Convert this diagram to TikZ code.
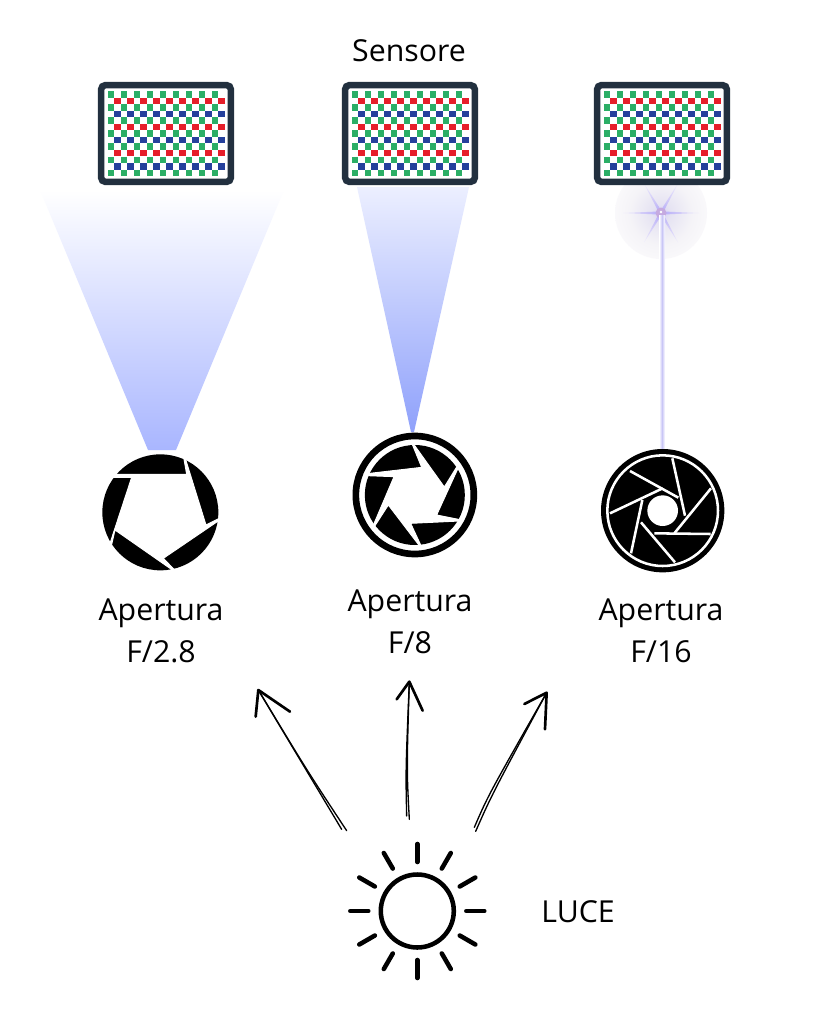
\documentclass[tikz,border=0pt]{standalone}
\usepackage{fontspec}
\setmainfont{Open Sans}
\definecolor{framec}{HTML}{22303F}
\definecolor{gr}{HTML}{2BAE66}
\definecolor{rd}{HTML}{E61E2A}
\definecolor{bl}{HTML}{25409C}
\definecolor{beamA}{HTML}{A9B6FF}
\definecolor{beamB}{HTML}{8FA1FB}
\definecolor{beamBtop}{HTML}{ECEFFF}
\definecolor{beamC}{HTML}{C9C6F6}
\pgfdeclareradialshading{glowsh}{\pgfpoint{0bp}{0bp}}{rgb(0bp)=(.84,.82,.96); rgb(5bp)=(.90,.89,.95); rgb(17bp)=(.96,.955,.97); rgb(35bp)=(1,1,1); rgb(50bp)=(1,1,1)}
\pgfdeclareradialshading{spikesh}{\pgfpoint{0bp}{0bp}}{rgb(0bp)=(.70,.66,.98); rgb(10bp)=(.80,.77,.97); rgb(34bp)=(.99,.99,1); rgb(50bp)=(1,1,1)}
\tikzset{
  lbl/.style={font=\fontsize{22.7}{31.5}\selectfont,align=center,text=black,inner sep=0pt},
  sk/.style={line width=1pt,line cap=round,black},
  skh/.style={line width=2pt,line cap=round,line join=round,black},
  cutp/.style={fill=white,draw=white,line width=0.7pt,line join=miter},
  cutt/.style={white,line width=1.9pt},
  ray/.style={line width=3.4pt,line cap=round,black},
}
\newcommand{\mosaicat}[2]{%
 \begin{scope}[shift={(#1,#2)}]
  \fill[white,draw=framec,line width=4.9pt,rounded corners=3pt] (3.2,3.2) rectangle (132.8,99.8);
  \foreach \r in {0,2,...,12}{\foreach \c in {0,...,8}{\fill[gr] (9.7+13*\c,9+6.55*\r) rectangle +(6.5,6.5);}}
  \foreach \r in {1,5,9}{\foreach \c in {0,...,8}{\fill[rd] (16.2+13*\c,9+6.55*\r) rectangle +(6.5,6.5);}}
  \foreach \r in {3,7,11}{\foreach \c in {0,...,8}{\fill[bl] (16.2+13*\c,9+6.55*\r) rectangle +(6.5,6.5);}}
 \end{scope}}
\begin{document}
\begin{tikzpicture}[x=0.75pt,y=-0.75pt]
\useasboundingbox (0,0) rectangle (819,1024);
\fill[white] (0,0) rectangle (819,1024);
% beams
\shade[top color=white,bottom color=beamA] (40,190) -- (284,190) -- (176,450) -- (148,450) -- cycle;
\shade[top color=beamBtop,bottom color=beamB] (357,187) -- (469,187) -- (414,432) -- (411,432) -- cycle;
% point of light
\shade[shading=glowsh] (661,213) circle (46);
\shade[shading=spikesh]
  (661+38,213) -- ({661+3*cos(30)},{213-3*sin(30)}) -- ({661+34*cos(60)},{213-34*sin(60)}) -- ({661+3*cos(90)},{213-3*sin(90)})
  -- ({661+34*cos(120)},{213-34*sin(120)}) -- ({661+3*cos(150)},{213-3*sin(150)}) -- (661-38,213)
  -- ({661+3*cos(210)},{213-3*sin(210)}) -- ({661+34*cos(240)},{213-34*sin(240)}) -- ({661+3*cos(270)},{213-3*sin(270)})
  -- ({661+34*cos(300)},{213-34*sin(300)}) -- ({661+3*cos(330)},{213-3*sin(330)}) -- cycle;
\fill[beamC!75!violet!80!white] (661,213) circle (5.5);
\fill[white] (661,212) circle (1.3);
\shade[left color=white,right color=white,middle color=beamC] (659,215) rectangle (665,449);
% sensors
\mosaicat{98}{82}
\mosaicat{342}{82}
\mosaicat{594}{82}
% iris F/2.8
\begin{scope}[shift={(90,440)},scale=1/3]
  \fill[black] (211,217) circle (174);
  \path[cutp] (290,103) -- (281,52) -- (285,52) -- (348,255) -- (392,233) -- (392,238) -- (220,355) -- (256,392) -- (250,392) -- (75,270) -- (64,318) -- (60,310) -- (125,112) -- (70,112) -- (70,103) -- cycle;
\end{scope}
% iris F/8
\begin{scope}[shift={(345,425)},scale=1/3]
  \draw[black,line width=5pt] (209.5,210) circle (177);
  \fill[black] (209.5,210) circle (150);
  \path[cutp] (230,127) -- (201,56) -- (205,56) -- (298,186) -- (335,126) -- (339,130) -- (275,270) -- (345,284) -- (344,288) -- (197,295) -- (228,362) -- (223,362) -- (130,240) -- (90,302) -- (86,298) -- (147,155) -- (66,152) -- (66,146) -- cycle;
\end{scope}
% iris F/16
\begin{scope}[shift={(595,445)},scale=1/3]
  \fill[black] (203,197) circle (185);
  \draw[white,line width=1.9pt] (203,197) circle (166);
  \fill[white] (203,197) circle (46);
  \draw[cutt] (105,78) -- (250,158);
  \draw[cutt] (45,205) -- (203,130);
  \draw[cutt] (232,40) -- (270,212);
  \draw[cutt] (348,130) -- (238,265);
  \draw[cutt] (347,267) -- (178,265);
  \draw[cutt] (240,352) -- (138,232);
  \draw[cutt] (108,325) -- (142,165);
\end{scope}
% labels
\node[lbl] (sens) at (409,51) {Sensore};
\node[lbl] (ap1) at (161,631) {Apertura\\F/2.8};
\node[lbl] (ap2) at (410,622) {Apertura\\F/8};
\node[lbl] (ap3) at (661,631) {Apertura\\F/16};
\node[lbl] (luce) at (578,912) {LUCE};
% sketched arrows
\begin{scope}[shift={(240,670)},scale=1/3]
  \coordinate (t1) at (55,60);
  \coordinate (s1a) at (305,478); \coordinate (s1b) at (320,482);
  \coordinate (h1a) at (47,140); \coordinate (h1b) at (150,125);
  \coordinate (t2) at (508,35);
  \coordinate (s2a) at (500,438); \coordinate (s2b) at (508,448);
  \coordinate (h2a) at (470,88); \coordinate (h2b) at (548,122);
  \coordinate (t3) at (920,68);
  \coordinate (s3a) at (703,472); \coordinate (s3b) at (707,484);
  \coordinate (h3a) at (853,102); \coordinate (h3b) at (915,178);
  \draw[sk] (s1a) -- (t1); \draw[sk] (s1b) .. controls (200,300) .. (t1);
  \draw[skh] (h1a) -- (t1) -- (h1b);
  \draw[sk] (s2a) .. controls (497,300) .. (t2); \draw[sk] (s2b) .. controls (500,300) .. (t2);
  \draw[skh] (h2a) -- (t2) -- (h2b);
  \draw[sk] (s3a) .. controls (745,375) .. (t3); \draw[sk] (s3b) .. controls (755,375) .. (t3);
  \draw[skh] (h3a) -- (t3) -- (h3b);
\end{scope}
% sun
\begin{scope}[shift={(417.3,911)}]
  \draw[black,line width=3.4pt] (0,0) circle (36.5);
  \foreach \a in {0,30,...,330}{\draw[ray] (\a:49) -- (\a:67);}
\end{scope}
\end{tikzpicture}
\end{document}
